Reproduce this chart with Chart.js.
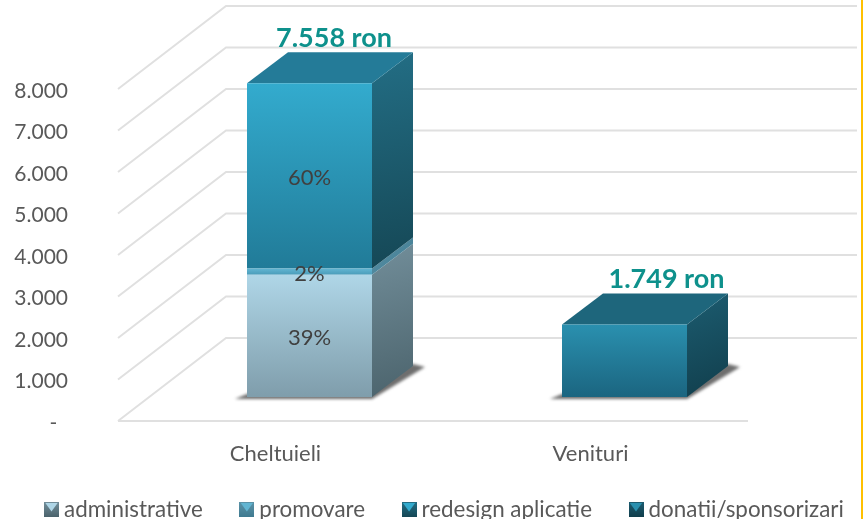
<!DOCTYPE html>
<html>
<head>
<meta charset="utf-8">
<style>
  html, body { margin: 0; padding: 0; background: #fff; }
  #wrap { position: relative; width: 863px; height: 519px; overflow: hidden; }
  #wrap:after { content: ''; position: absolute; right: 0; top: 0; bottom: 0; width: 2px; background: #ffc000; }
  #legenda { position: absolute; left: 44px; top: 496px; display: flex; gap: 36.5px; font: 22.4px Lato, sans-serif; color: #595959; line-height: 26px; white-space: nowrap; }
  #legenda .item { display: flex; align-items: center; gap: 5px; }
  #legenda .box { width: 15px; height: 15px; display: block; position: relative; }
  #legenda .box i { position: absolute; left: 1px; top: 1px; width: 13px; height: 9px; clip-path: polygon(0 0, 100% 0, 50% 100%); }
</style>
<script src="https://cdn.jsdelivr.net/npm/chart.js@4/dist/chart.umd.min.js"></script>
</head>
<body>
<div id="wrap">
  <canvas id="grafic" width="863" height="519"></canvas>
  <div id="legenda"></div>
</div>
<script>
const categorii = ['Cheltuieli', 'Venituri'];
const serii = ['administrative', 'promovare', 'redesign aplicatie', 'donatii/sponsorizari'];
const administrative = [2945, null];
const promovare = [150, null];
const redesign = [4463, null];
const donatii = [null, 1749];
const procente = [['39%', null], ['2%', null], ['60%', null], [null, null]];
const valoriAxa = [0, 1000, 2000, 3000, 4000, 5000, 6000, 7000, 8000];

// culori: fata sus, fata jos, lateral sus, lateral jos, capac
const culori = [
    ['#afd6e7', '#7f9dab', '#728e9a', '#4b636c', '#7f9dab'],
    ['#62b5d2', '#4a9cb9', '#5b93a8', '#3f7a90', '#4f8ea5'],
    ['#33abce', '#217b98', '#236e85', '#154755', '#247b98'],
    ['#2a90af', '#1b6580', '#1c5c70', '#113e4c', '#1e667c']
];

const bara = { dx: 34, dy: -24 };   // bara sta in spate fata de planul axelor
const adancime = { dx: 41, dy: -31 };
const perete = { dx: 108, dy: -83, dreapta: 857 };
const ajustareTotal = [-8, 9.5];

function formatNumar(v) {
    return v.toLocaleString('de-DE');
}

function valoriSerie(i) {
    return [administrative, promovare, redesign, donatii][i];
}

function limiteSegment(chart, ds, j) {
    let jos = 0;
    for (let k = 0; k < ds; k++) jos += valoriSerie(k)[j] || 0;
    const y = chart.scales.y;
    return [y.getPixelForValue(jos + (valoriSerie(ds)[j] || 0)), y.getPixelForValue(jos)];
}

function gradientFata(context) {
    const chart = context.chart;
    if (!chart.chartArea || context.dataIndex === undefined) return culori[context.datasetIndex][0];
    const [sus, jos] = limiteSegment(chart, context.datasetIndex, context.dataIndex);
    const g = chart.ctx.createLinearGradient(0, sus, 0, jos);
    g.addColorStop(0, culori[context.datasetIndex][0]);
    g.addColorStop(1, culori[context.datasetIndex][1]);
    return g;
}

const plugin3d = {
    id: 'plugin3d',
    beforeDatasetsDraw(chart) {
        const ctx = chart.ctx;
        const { left, right, bottom } = chart.chartArea;
        const y = chart.scales.y;

        // peretii si podeaua
        ctx.save();
        ctx.strokeStyle = '#e0e0e0';
        ctx.lineWidth = 2;
        valoriAxa.forEach(function (v) {
            const py = y.getPixelForValue(v);
            ctx.beginPath();
            ctx.moveTo(left, py);
            ctx.lineTo(left + perete.dx, py + perete.dy);
            ctx.lineTo(perete.dreapta, py + perete.dy);
            ctx.stroke();
        });
        ctx.beginPath();
        ctx.moveTo(left, bottom);
        ctx.lineTo(right, bottom);
        ctx.stroke();
        ctx.restore();

        // umbra pe podea, apoi laterale si capac
        ctx.save();
        ctx.translate(bara.dx, bara.dy);
        categorii.forEach(function (c, j) {
            const el = chart.getDatasetMeta(0).data[j];
            const x0 = el.x - el.width / 2;
            const x1 = el.x + el.width / 2;
            const y0 = y.getPixelForValue(0);
            ctx.save();
            ctx.filter = 'blur(1.5px)';
            ctx.fillStyle = '#6e6e6e';
            ctx.beginPath();
            ctx.moveTo(x0 - 12, y0 + 2);
            ctx.lineTo(x1, y0 + 2);
            ctx.lineTo(x1 + adancime.dx + 12, y0 + adancime.dy + 1);
            ctx.lineTo(x1 + adancime.dx, y0 + adancime.dy - 2);
            ctx.lineTo(x0, y0 - 3);
            ctx.closePath();
            ctx.fill();
            ctx.restore();

            let ultim = -1;
            serii.forEach(function (s, ds) {
                if (valoriSerie(ds)[j] === null) return;
                ultim = ds;
                const [sus, jos] = limiteSegment(chart, ds, j);
                const g = ctx.createLinearGradient(x1, sus + adancime.dy, x1 + adancime.dx, jos);
                g.addColorStop(0, culori[ds][2]);
                g.addColorStop(1, culori[ds][3]);
                ctx.fillStyle = g;
                ctx.beginPath();
                ctx.moveTo(x1, sus);
                ctx.lineTo(x1 + adancime.dx, sus + adancime.dy);
                ctx.lineTo(x1 + adancime.dx, jos + adancime.dy);
                ctx.lineTo(x1, jos);
                ctx.closePath();
                ctx.fill();
            });
            const sus = limiteSegment(chart, ultim, j)[0];
            ctx.fillStyle = culori[ultim][4];
            ctx.beginPath();
            ctx.moveTo(x0, sus);
            ctx.lineTo(x0 + adancime.dx, sus + adancime.dy);
            ctx.lineTo(x1 + adancime.dx, sus + adancime.dy);
            ctx.lineTo(x1, sus);
            ctx.closePath();
            ctx.fill();
        });
        ctx.restore();
    },
    beforeDatasetDraw(chart) {
        chart.ctx.save();
        chart.ctx.translate(bara.dx, bara.dy);
    },
    afterDatasetDraw(chart) {
        chart.ctx.restore();
    },
    afterDatasetsDraw(chart) {
        const ctx = chart.ctx;
        ctx.save();
        ctx.textAlign = 'center';
        ctx.textBaseline = 'middle';

        // procente pe segmente
        ctx.font = '22px Lato, sans-serif';
        ctx.fillStyle = '#404040';
        procente.forEach(function (rand, ds) {
            rand.forEach(function (text, j) {
                if (!text) return;
                const el = chart.getDatasetMeta(ds).data[j];
                const [sus, jos] = limiteSegment(chart, ds, j);
                ctx.fillText(text, el.x + bara.dx, (sus + jos) / 2 + bara.dy + 2);
            });
        });

        // totalurile deasupra barelor
        ctx.font = 'bold 27px Lato, sans-serif';
        ctx.fillStyle = '#0e918c';
        categorii.forEach(function (c, j) {
            let total = 0;
            let ultim = 0;
            serii.forEach(function (s, ds) {
                const v = valoriSerie(ds)[j];
                if (v !== null) { total += v; ultim = ds; }
            });
            const el = chart.getDatasetMeta(ultim).data[j];
            const sus = limiteSegment(chart, ultim, j)[0];
            ctx.fillText(formatNumar(total) + ' ron',
                el.x + bara.dx + adancime.dx / 2 + 12 + ajustareTotal[j], sus + bara.dy + adancime.dy - 14);
        });
        ctx.restore();
    }
};

const grafic = new Chart(document.getElementById('grafic'), {
    type: 'bar',
    data: {
        labels: categorii,
        datasets: serii.map(function (nume, i) {
            return {
                label: nume,
                data: valoriSerie(i),
                backgroundColor: gradientFata,
                borderWidth: 0,
                barPercentage: 125 / 315,
                categoryPercentage: 1,
                clip: false
            };
        })
    },
    options: {
        responsive: false,
        animation: false,
        layout: { padding: { top: 89, right: 115, bottom: 0, left: 0 } },
        plugins: { legend: { display: false }, tooltip: { enabled: false } },
        scales: {
            x: {
                stacked: true,
                grid: { display: false },
                border: { display: false },
                afterFit: function (s) { s.height = 98; },
                ticks: { color: '#595959', padding: 12, maxRotation: 0, font: { family: 'Lato, sans-serif', size: 22 } }
            },
            y: {
                stacked: true,
                min: 0,
                max: 8000,
                grid: { display: false, drawTicks: false },
                border: { display: false },
                afterFit: function (s) { s.width = 118; },
                ticks: {
                    stepSize: 1000,
                    color: '#595959',
                    padding: 50,
                    labelOffset: 2,
                    font: { family: 'Lato, sans-serif', size: 21 },
                    callback: function (v) { return v === 0 ? '-\u00a0\u00a0' : formatNumar(v); }
                }
            }
        }
    },
    plugins: [plugin3d]
});

// legenda HTML, construita din seriile graficului
const legenda = document.getElementById('legenda');
grafic.data.datasets.forEach(function (d, i) {
    const item = document.createElement('span');
    item.className = 'item';
    const box = document.createElement('span');
    box.className = 'box';
    box.style.background = 'linear-gradient(' + culori[i][2] + ',' + culori[i][3] + ')';
    const varf = document.createElement('i');
    varf.style.background = culori[i][0];
    box.appendChild(varf);
    const text = document.createElement('span');
    text.textContent = d.label;
    item.appendChild(box);
    item.appendChild(text);
    legenda.appendChild(item);
});
</script>
</body>
</html>
